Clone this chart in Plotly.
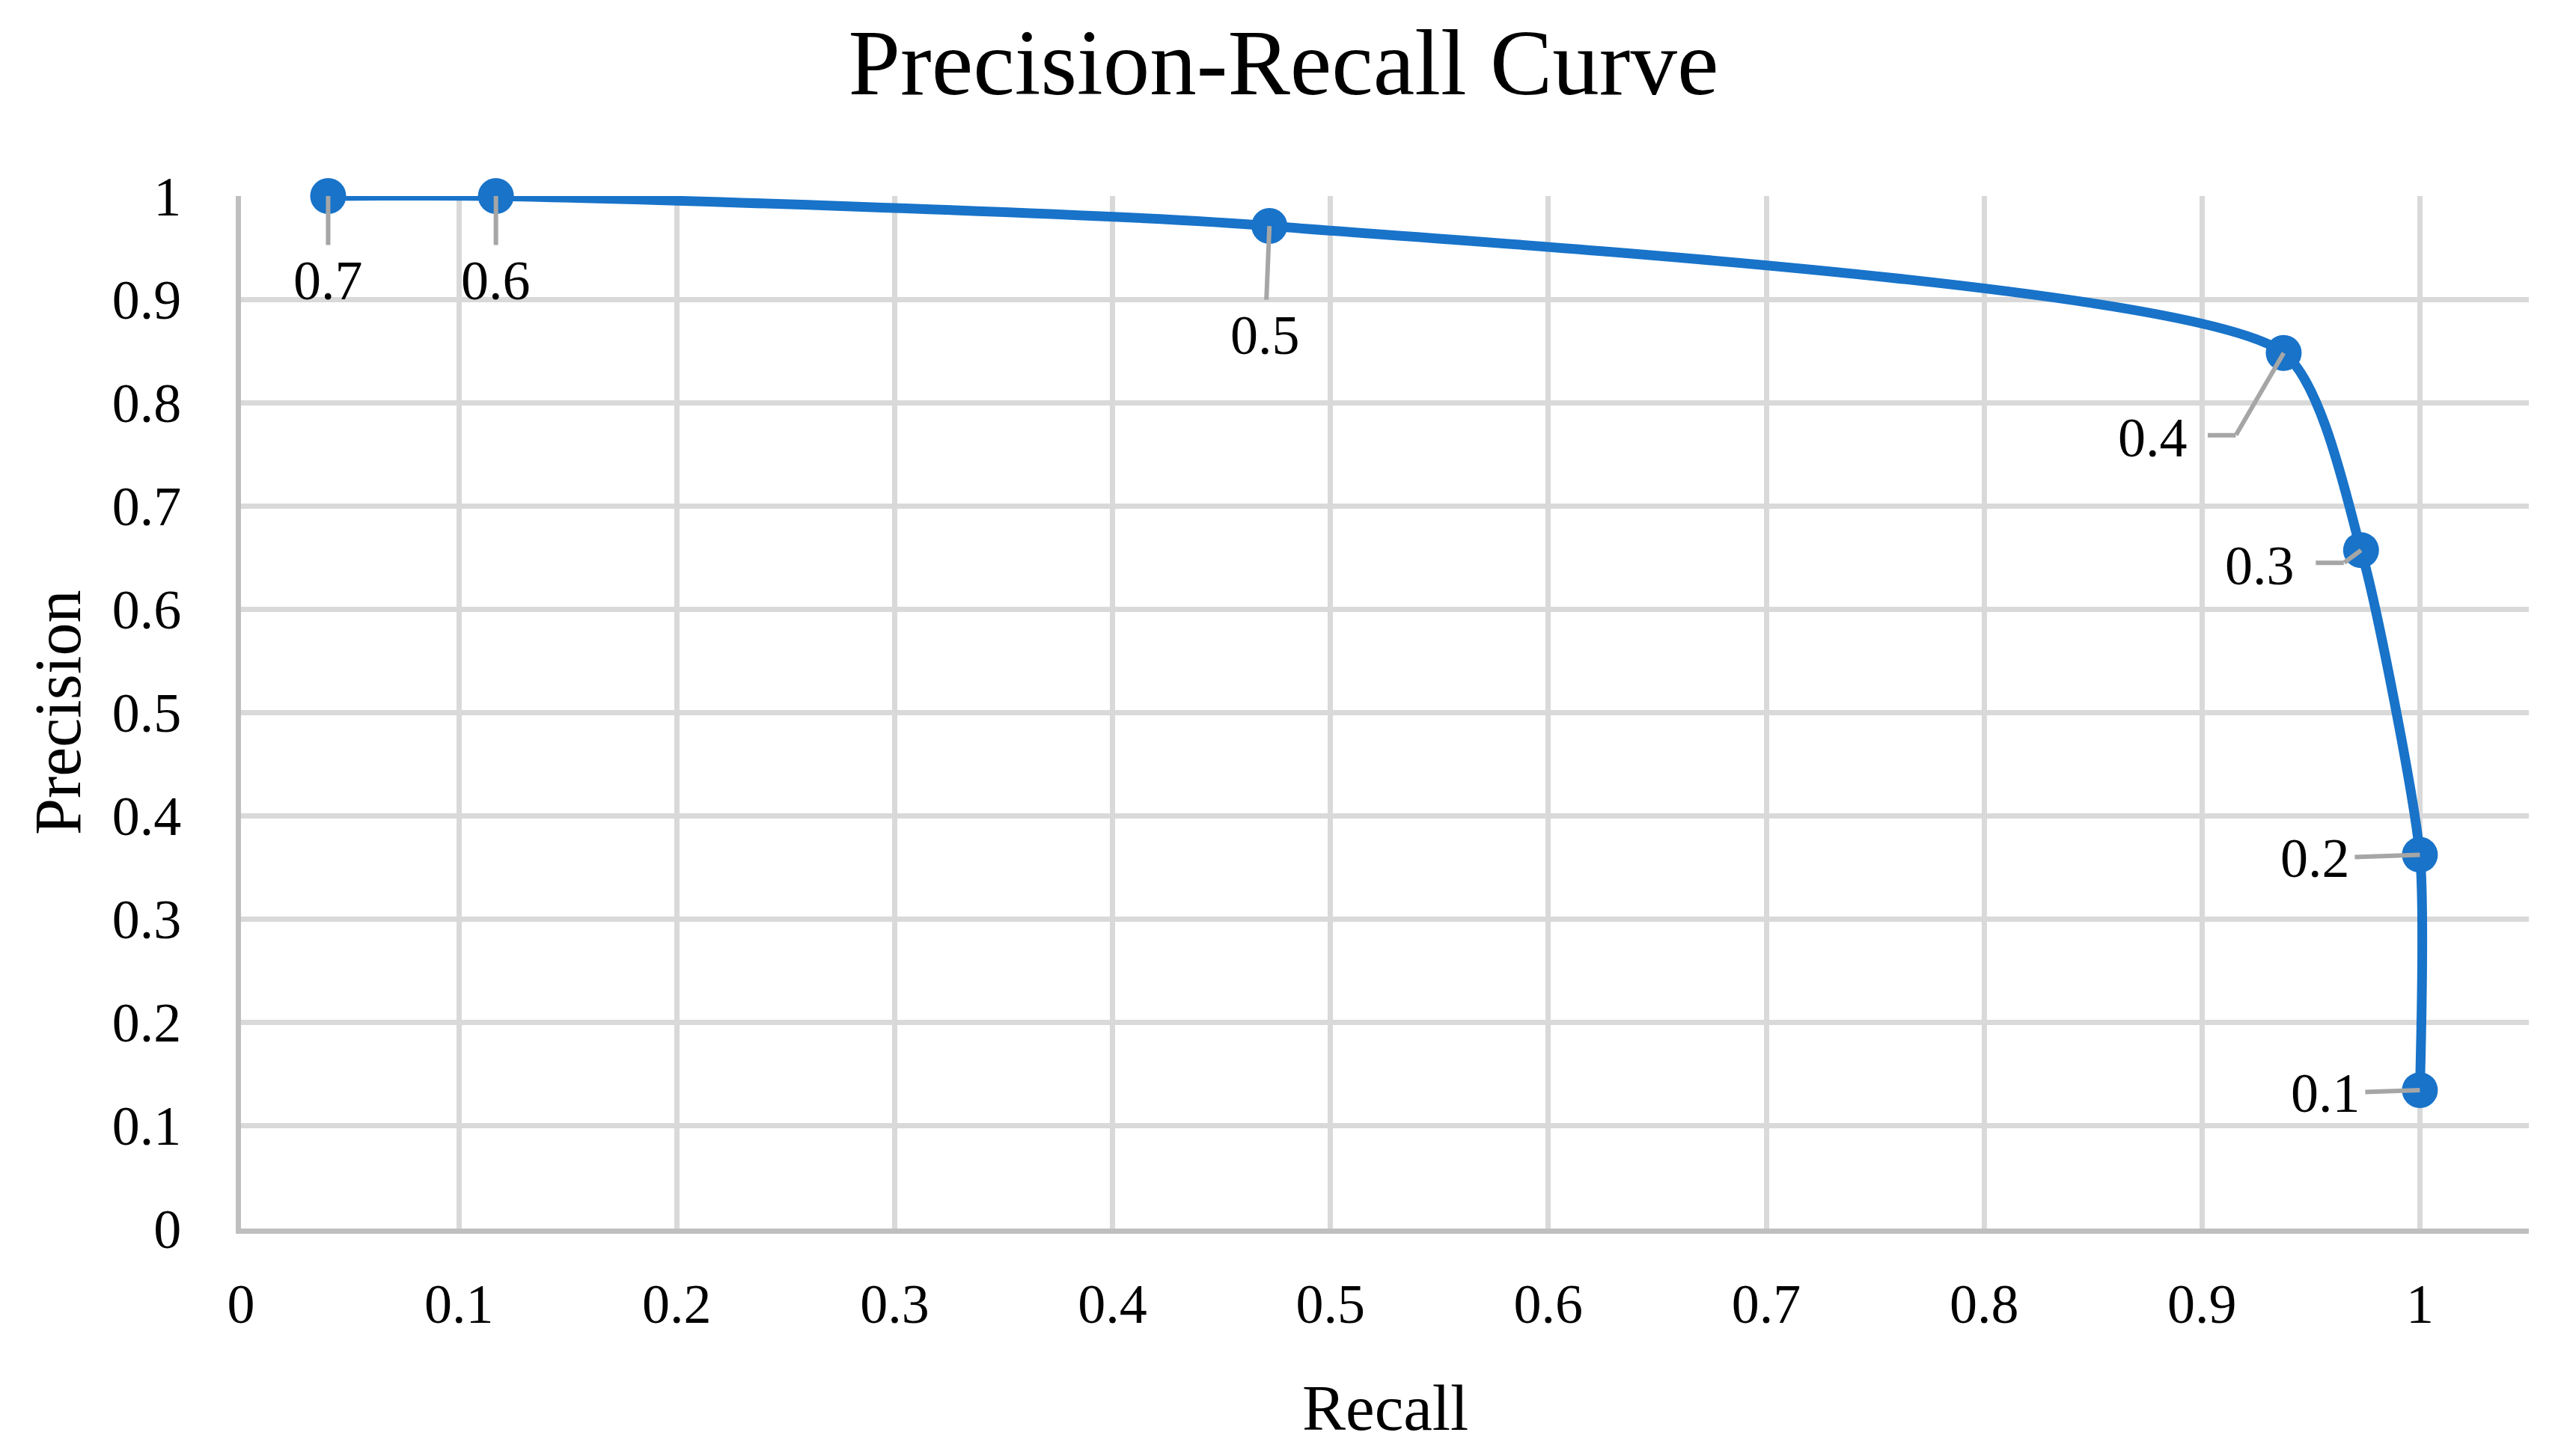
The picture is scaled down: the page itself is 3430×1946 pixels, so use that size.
import plotly.graph_objects as go

# Data
thresholds = ["0.7", "0.6", "0.5", "0.4", "0.3", "0.2", "0.1"]
recall = [0.040, 0.117, 0.472, 0.9375, 0.973, 1.0, 1.0]
precision = [1.0, 1.0, 0.971, 0.848, 0.657, 0.362, 0.134]

# label centre offsets (pixels, +y = down) relative to each point
label_dx = [0, 0, -6, -175, -135, -140, -126]
label_dy = [113, 113, 146, 113, 21, 5, 4]
# leader-line elbow offsets (pixels) relative to each point (None = straight leader)
elbow_dx = [None, None, None, -64, -23, None, None]
elbow_dy = [None, None, None, 110, 17, None, None]
elbow_len = [None, None, None, 38, 38, None, None]

x_ticks = [0, 0.1, 0.2, 0.3, 0.4, 0.5, 0.6, 0.7, 0.8, 0.9, 1]
x_tick_text = ["0", "0.1", "0.2", "0.3", "0.4", "0.5", "0.6", "0.7", "0.8", "0.9", "1"]
y_ticks = [0, 0.1, 0.2, 0.3, 0.4, 0.5, 0.6, 0.7, 0.8, 0.9, 1]
y_tick_text = ["0", "0.1", "0.2", "0.3", "0.4", "0.5", "0.6", "0.7", "0.8", "0.9", "1"]

FONT = "Liberation Serif"
BLUE = "#1873C9"
GRID = "#D9D9D9"
AXIS = "#BFBFBF"
LEADER = "#A6A6A6"

W, H = 3430, 1946
L, R, T, B = 322, 51, 262, 304

fig = go.Figure()
fig.add_trace(go.Scatter(
    x=recall, y=precision,
    mode="lines+markers",
    line=dict(color=BLUE, width=13, shape="spline", smoothing=0.6),
    marker=dict(color=BLUE, size=48),
    cliponaxis=False,
    showlegend=False,
    hoverinfo="skip",
))

label_font = dict(family=FONT, size=74, color="black")
for i, (xv, yv, t) in enumerate(zip(recall, precision, thresholds)):
    dx, dy = label_dx[i], label_dy[i]
    if elbow_dx[i] is None:
        fig.add_annotation(
            x=xv, y=yv, xref="x", yref="y",
            text=t, showarrow=True, arrowhead=0, arrowwidth=6, arrowcolor=LEADER,
            ax=dx, ay=dy, standoff=0, startstandoff=0,
            font=label_font, borderpad=6,
        )
    else:
        ex, ey = elbow_dx[i], elbow_dy[i]
        # label text
        fig.add_annotation(
            x=xv, y=yv, xref="x", yref="y", text=t, showarrow=False,
            xshift=dx, yshift=-dy, font=label_font,
        )
        # slanted part of leader: from elbow to point
        fig.add_annotation(
            x=xv, y=yv, xref="x", yref="y", text="",
            showarrow=True, arrowhead=0, arrowwidth=6, arrowcolor=LEADER,
            ax=ex, ay=ey, standoff=0, startstandoff=0, borderpad=0,
        )
        # horizontal part of leader
        fig.add_annotation(
            x=xv, y=yv, xref="x", yref="y", text="",
            xshift=ex, yshift=-ey,
            showarrow=True, arrowhead=0, arrowwidth=6, arrowcolor=LEADER,
            ax=-elbow_len[i], ay=0, standoff=0, startstandoff=0, borderpad=0,
        )

# axis titles
fig.add_annotation(
    x=0.5, y=0, xref="paper", yref="paper", yshift=-239,
    text="Recall", showarrow=False, xanchor="center", yanchor="middle",
    font=dict(family=FONT, size=87, color="black"),
)
fig.add_annotation(
    x=0, y=0.5, xref="paper", yref="paper", xshift=-245,
    text="Precision", showarrow=False, xanchor="center", yanchor="middle",
    textangle=-90,
    font=dict(family=FONT, size=88, color="black"),
)

fig.update_layout(
    width=W, height=H,
    margin=dict(l=L, r=R, t=T, b=B),
    paper_bgcolor="white", plot_bgcolor="white",
    title=dict(
        text="Precision-Recall Curve",
        x=0.5, xanchor="center", y=1 - 82 / H, yanchor="middle",
        font=dict(family=FONT, size=125, color="black"),
    ),
    xaxis=dict(
        range=[0, 1.05], tickvals=x_ticks, ticktext=x_tick_text,
        showgrid=True, gridcolor=GRID, gridwidth=6.5,
        showline=True, linecolor=AXIS, linewidth=7, zeroline=False,
        ticks="outside", ticklen=30, tickcolor="rgba(0,0,0,0)",
        tickfont=dict(family=FONT, size=74, color="black"),
        fixedrange=True,
    ),
    yaxis=dict(
        range=[0, 1], tickvals=y_ticks, ticktext=y_tick_text,
        showgrid=True, gridcolor=GRID, gridwidth=6.5,
        showline=True, linecolor=AXIS, linewidth=7, zeroline=False,
        ticks="outside", ticklen=58, tickcolor="rgba(0,0,0,0)",
        tickfont=dict(family=FONT, size=74, color="black"),
        fixedrange=True,
    ),
)

fig.write_html(
    "out.html",
    config={"displayModeBar": False},
    post_script="document.body.style.margin='0';document.body.style.overflow='hidden';",
)
